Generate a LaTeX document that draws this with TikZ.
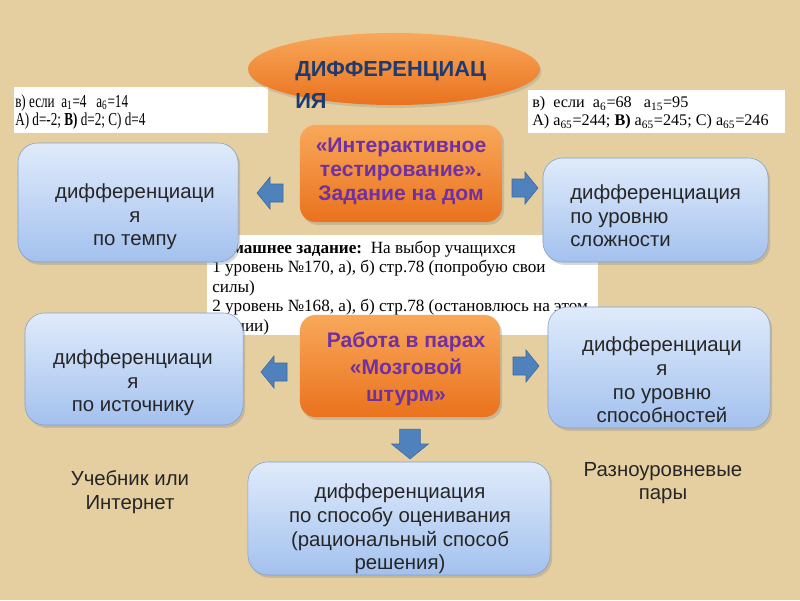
\documentclass[tikz,border=0pt]{standalone}
\usepackage{fontspec}
\setmainfont{Liberation Sans}
\newfontfamily\scanfont[FakeStretch=0.72]{Liberation Serif}
\newfontfamily\printfont{Liberation Serif}
\usetikzlibrary{positioning,shapes.geometric,shadows}
\definecolor{parchment}{RGB}{229,207,160}
\definecolor{orangetop}{RGB}{248,168,90}
\definecolor{orangebot}{RGB}{234,114,30}
\definecolor{bluetop}{RGB}{224,235,251}
\definecolor{bluebot}{RGB}{163,193,238}
\definecolor{blueedge}{RGB}{128,158,206}
\definecolor{arrowblue}{RGB}{79,129,189}
\definecolor{arrowedge}{RGB}{60,104,160}
\definecolor{titleblue}{RGB}{31,58,110}
\definecolor{violettext}{RGB}{112,48,160}
\definecolor{bodytext}{RGB}{38,38,38}
\tikzset{%
	bluebox/.style    = {draw=blueedge, rounded corners=14pt, top color=bluetop, bottom color=bluebot, drop shadow={opacity=0.3, shadow xshift=1.5pt, shadow yshift=-2pt}},
	orangebox/.style  = {rounded corners=11pt, top color=orangetop, bottom color=orangebot, drop shadow={opacity=0.3, shadow xshift=1.5pt, shadow yshift=-2pt}},
	titleoval/.style  = {ellipse, top color=orangetop, bottom color=orangebot, drop shadow={opacity=0.25, shadow xshift=1pt, shadow yshift=-2pt}},
	bluetext/.style   = {align=center, text=bodytext, inner sep=0pt, font=\fontsize{14.5}{16.8}\selectfont},
	orangetext/.style = {align=center, text=violettext, inner sep=0pt, font=\bfseries\fontsize{15}{17}\selectfont},
	scan/.style       = {fill=white, inner sep=0pt}, % pasted task
	scantext/.style   = {align=left, inner sep=0pt, text=black},
	blockarrow/.pic   = {\filldraw[fill=arrowblue, draw=arrowedge, line join=miter]
		(-13,-9) -- (0,-9) -- (0,-16) -- (13,0) -- (0,16) -- (0,9) -- (-13,9) -- cycle;},
}

\begin{document}
\begin{tikzpicture}[x=0.025cm, y=-0.025cm]
	\fill[parchment] (0,0) rectangle (800,600);
	\useasboundingbox (0,0) rectangle (800,600);
	
	% pasted tasks
	\node[scan, minimum width=6.35cm, minimum height=1.15cm] (scanleft) at (141,109.5) {};
	\node[scantext, anchor=west, font=\scanfont\fontsize{13}{13}\selectfont] (taskleft) at (15,112)
		{в) если\ \ a\textsubscript{1}=4\ \ \ a\textsubscript{6}=14\\
		 А) d=-2;\ \textbf{В)} d=2;\ С) d=4};
	\node[scan, minimum width=6.425cm, minimum height=1.075cm] (scanright) at (656.5,111.5) {};
	\node[scantext, anchor=west, font=\printfont\fontsize{11.5}{12.8}\selectfont] (taskright) at (532,113)
		{в)\ \ если\ \ a\textsubscript{6}=68\ \ \ a\textsubscript{15}=95\\
		 А) a\textsubscript{65}=244;\ \textbf{В)} a\textsubscript{65}=245;\ С) a\textsubscript{65}=246};
	\node[scan, minimum width=9.775cm, minimum height=2.5cm] (scanmid) at (402.5,285) {};
	\node[scantext, anchor=west, font=\printfont\fontsize{12.2}{13.8}\selectfont] (homework) at (212,288)
		{\textbf{Домашнее задание:}\ \ На выбор учащихся\\
		 1 уровень №170, а), б) стр.78 (попробую свои\\
		 силы)\\
		 2 уровень №168, а), б) стр.78 (остановлюсь на этом\\
		 знании)};
	
	% title
	\node[titleoval, minimum width=7.3cm, minimum height=1.8cm] (title) at (394,69) {};
	\node[anchor=west, align=left, inner sep=0pt, text=titleblue, font=\bfseries\fontsize{15.5}{22.5}\selectfont] (titletext) at (295,85)
		{ДИФФЕРЕНЦИАЦ\\ИЯ};
	
	% centre
	\node[orangebox, minimum width=5.05cm, minimum height=2.425cm] (test) at (401,173.5) {};
	\node[orangetext] (testtext) at (401,171) {«Интерактивное\\тестирование».\\Задание на дом};
	\node[orangebox, minimum width=5cm, minimum height=2.55cm] (pairs) at (400,366) {};
	\node[orangetext, font=\bfseries\fontsize{15}{19}\selectfont] (pairstext) at (406,369) {Работа в парах\\«Мозговой\\штурм»};
	
	% kinds
	\node[bluebox, minimum width=5.5cm, minimum height=2.975cm] (tempo) at (128,202.5) {};
	\node[bluetext] (tempotext) at (135,217) {дифференциаци\\я\\по темпу};
	\node[bluebox, minimum width=5.625cm, minimum height=2.6cm] (level) at (655.5,210) {};
	\node[bluetext, align=left, anchor=west] (leveltext) at (570,216) {дифференциация\\по уровню\\сложности};
	\node[bluebox, minimum width=5.45cm, minimum height=2.8cm] (source) at (134,369) {};
	\node[bluetext] (sourcetext) at (133,383) {дифференциаци\\я\\по источнику};
	\node[bluebox, minimum width=5.55cm, minimum height=3.025cm] (ability) at (659,367.5) {};
	\node[bluetext] (abilitytext) at (662,380) {дифференциаци\\я\\по уровню\\способностей};
	\node[bluebox, minimum width=7.55cm, minimum height=2.825cm] (assess) at (399,518.5) {};
	\node[bluetext] (assesstext) at (400,529) {дифференциация\\по способу оценивания\\(рациональный способ\\решения)};
	
	\node[bluetext] (book) at (130,492) {Учебник или\\Интернет};
	\node[bluetext] (mixed) at (663,483) {Разноуровневые\\пары};
	
	% block arrows
	\pic[rotate=180] (arrowtempo) at (270,193) {blockarrow};
	\pic (arrowlevel) at (525,188) {blockarrow};
	\pic[rotate=180] (arrowsource) at (274,372) {blockarrow};
	\pic (arrowability) at (526,366) {blockarrow};
	\pic[rotate=-90, scale=1.15] (arrowdown) at (410,444) {blockarrow};
\end{tikzpicture}
\end{document}
